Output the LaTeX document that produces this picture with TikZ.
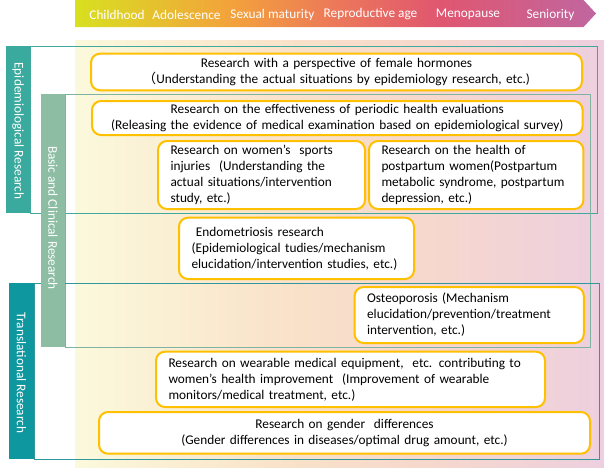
\documentclass[tikz,border=0pt]{standalone}
\usepackage{fontspec}
\setmainfont{Carlito}
\newfontfamily\cjk{Noto Sans CJK JP}
\definecolor{gold}{HTML}{FFC000}
\definecolor{epibar}{HTML}{3AA99E}
\definecolor{epiline}{HTML}{3FA99D}
\definecolor{basbar}{HTML}{8DBEA4}
\definecolor{basline}{HTML}{7DB3A0}
\definecolor{trbar}{HTML}{0F97A0}
\definecolor{trline}{HTML}{30979A}
\definecolor{agelime}{HTML}{D8E020}
\definecolor{ageorange}{HTML}{F3A23C}
\definecolor{agecoral}{HTML}{EC785A}
\definecolor{agerose}{HTML}{E05670}
\definecolor{agemauve}{HTML}{C066A0}
\definecolor{bgcream}{HTML}{FBF9DC}
\definecolor{bgpeach}{HTML}{F9E2C9}
\definecolor{bgpink}{HTML}{F7D8CC}
\definecolor{bglilac}{HTML}{EDCFDF}
\pgfdeclarehorizontalshading{agebar}{100bp}{color(0bp)=(agelime); color(25bp)=(agelime);
  color(40bp)=(ageorange); color(50bp)=(agecoral); color(60bp)=(agerose);
  color(75bp)=(agemauve); color(100bp)=(agemauve)}
\pgfdeclarehorizontalshading{agebg}{100bp}{color(0bp)=(bgcream); color(25bp)=(bgcream);
  color(45bp)=(bgpeach); color(58bp)=(bgpink); color(75bp)=(bglilac); color(100bp)=(bglilac)}
\begin{document}
\begin{tikzpicture}[x=1pt,y=-1pt,font=\fontsize{13.3}{16}\selectfont,
  topic/.style={draw=gold,line width=2pt,fill=white,rounded corners=9pt,anchor=north west,
    inner xsep=12.5pt,inner ysep=0pt},
  stage/.style={text=white},
  side/.style={text=white,rotate=-90}]
  \useasboundingbox (0,0) rectangle (604,467);
  \shade[shading=agebg] (75,40) rectangle (604,467);
  \shade[shading=agebar] (75,0)--(583.5,0)--(596,13.5)--(583.5,27)--(75,27)--cycle;
  \node[stage] (child) at (117,14.5) {Childhood};
  \node[stage] (adol) at (186.5,14.5) {Adolescence};
  \node[stage] (sexmat) at (272.5,14.5) {Sexual maturity};
  \node[stage] (repro) at (370.5,14.5) {Reproductive age};
  \node[stage] (meno) at (468,14.5) {Menopause};
  \node[stage] (senior) at (550.5,14.5) {Seniority};
  \draw[epiline] (30,46) rectangle (596.7,212.7);
  \draw[basline] (65,94.3) rectangle (589.7,347);
  \draw[trline] (34,283) rectangle (599.3,459);
  \fill[epibar] (6,46) rectangle (30,212.7);
  \fill[basbar] (41,94.3) rectangle (65,347);
  \fill[trbar] (9,283) rectangle (34,459);
  \node[side] (epi) at (18,131) {Epidemiological Research};
  \node[side] (basic) at (53,218) {Basic and Clinical Research};
  \node[side] (transl) at (21.5,373) {Translational Research};
  \node[topic,minimum width=491pt,minimum height=36.6pt,text width=466pt,align=center] (hormone) at (90,52.7)
    {Research with a perspective of female hormones\\{\cjk （}Understanding the actual situations by epidemiology research, etc.)};
  \node[topic,minimum width=490.6pt,minimum height=34pt,text width=465.6pt,align=center] (periodic) at (91,100)
    {Research on the effectiveness of periodic health evaluations\\(Releasing the evidence of medical examination based on epidemiological survey)};
  \node[topic,minimum width=207pt,minimum height=68pt,text width=182pt,align=left] (sports) at (157,140)
    {Research on women’s\ \ sports\\injuries\ \ (Understanding the\\actual situations/intervention\\study, etc.)};
  \node[topic,minimum width=214.4pt,minimum height=68pt,text width=189.4pt,align=left] (postpartum) at (368,140)
    {Research on the health of\\postpartum women(Postpartum\\metabolic syndrome, postpartum\\depression, etc.)};
  \node[topic,minimum width=235pt,minimum height=61.3pt,text width=210pt,align=left] (endo) at (178,216.7)
    {\ Endometriosis research\\(Epidemiological tudies/mechanism\\elucidation/intervention studies, etc.)};
  \node[topic,minimum width=229.2pt,minimum height=56pt,text width=204.2pt,align=left] (osteo) at (353.6,286)
    {Osteoporosis (Mechanism\\elucidation/prevention/treatment\\intervention, etc.)};
  \node[topic,minimum width=389pt,minimum height=55.3pt,text width=364pt,align=left] (wearable) at (155,350.7)
    {Research on wearable medical equipment,\ \ etc. contributing to\\women’s health improvement\ \ (Improvement of wearable\\monitors/medical treatment, etc.)};
  \node[topic,minimum width=491pt,minimum height=41.7pt,text width=466pt,align=center] (gender) at (98,411)
    {Research on gender\ \ differences\\(Gender differences in diseases/optimal drug amount, etc.)};
\end{tikzpicture}
\end{document}
